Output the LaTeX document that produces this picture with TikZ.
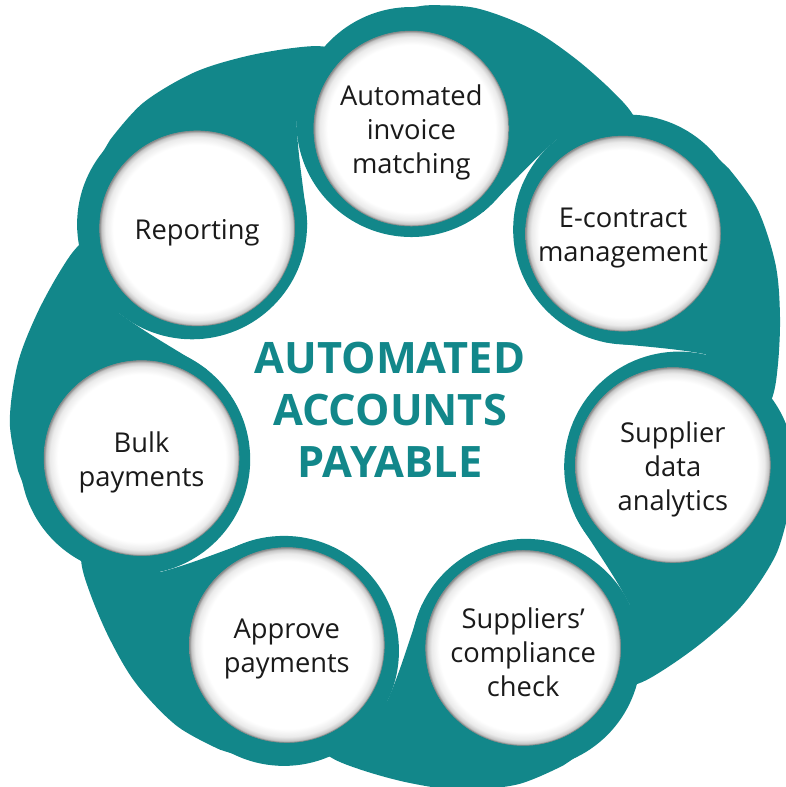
\documentclass[tikz,border=0pt]{standalone}
\usepackage{fontspec}
\setmainfont{Open Sans}
\usetikzlibrary{positioning}

\definecolor{swirl}{HTML}{12878A}
\definecolor{ink}{HTML}{1A1A1A}
\pgfdeclareradialshading{hollow}{\pgfpoint{0bp}{0bp}}{color(0bp)=(white); color(21.5bp)=(white); color(23.5bp)=(black!8); color(24.5bp)=(black!22); color(25bp)=(black!45); color(50bp)=(black!45)}

\begin{document}
\begin{tikzpicture}[x=1pt, y=1pt,
    item/.style={circle, minimum size=195pt, inner sep=0pt, shade, shading=hollow, draw=black!45, line width=0.5pt},
    caption/.style={align=center, text=ink, yshift=-4pt, font=\fontsize{27.3}{34}\selectfont},
    heading/.style={align=center, text=swirl, font=\bfseries\fontsize{43.3}{52}\selectfont}]
    \useasboundingbox (-408,-386) rectangle (377,401);

    \foreach \a in {89.3, 37.9, -13.6, -65.0, -116.4, -167.9, 140.7} {
        \fill[swirl] (\a:279) circle (115);
        \fill[swirl, rotate=\a-140.7] (-215.9,176.7) -- (-308,244)
            -- plot[smooth, tension=0.55] coordinates {(-298,261) (-265,298) (-215,328) (-165,344) (-115,353) (-81,354) (-48,341)}
            -- (-80,300) -- (-111.5,280) .. controls (-110.5,245) and (-103,205) .. (-100.9,176.7) -- cycle;
    }

    \node [item] (matching) at (89.3:272.5) {};
    \node [item] (contract) at (37.9:272.5) {};
    \node [item] (analytics) at (-13.6:272.5) {};
    \node [item] (compliance) at (-65.0:272.5) {};
    \node [item] (approve) at (-116.4:272.5) {};
    \node [item] (bulk) at (-167.9:272.5) {};
    \node [item] (reporting) at (140.7:272.5) {};

    \node [caption] (matching text) at (matching) {Automated\\invoice\\matching};
    \node [caption] (contract text) at (contract) {E-contract\\management};
    \node [caption] (analytics text) at (analytics) {Supplier\\data\\analytics};
    \node [caption] (compliance text) at (compliance) {Suppliers’\\compliance\\check};
    \node [caption] (approve text) at (approve) {Approve\\payments};
    \node [caption] (bulk text) at (bulk) {Bulk\\payments};
    \node [caption] (reporting text) at (reporting) {Reporting};

    \node [heading] (title) at (-18,-9) {AUTOMATED\\ACCOUNTS\\PAYABLE};
\end{tikzpicture}
\end{document}
